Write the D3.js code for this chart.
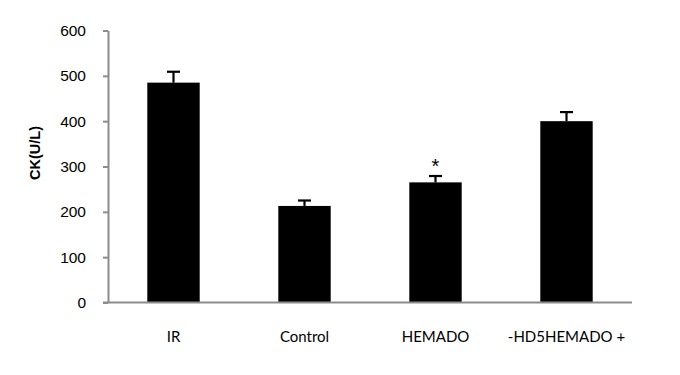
<!DOCTYPE html>
<html>
<head>
<meta charset="utf-8">
<script src="https://cdn.jsdelivr.net/npm/d3@7"></script>
<style>
  body { margin: 0; background: #fff; }
  svg { display: block; }
</style>
</head>
<body>
<div id="chart"></div>
<script>
// --- DATA ---
const groups = ["IR", "Control", "HEMADO", "-HD5HEMADO +"];
const means = [485, 213, 265, 400];
const errors = [24, 12, 14, 20];
const marks = ["", "", "*", ""];
const yTicks = [0, 100, 200, 300, 400, 500, 600];

// --- SETUP ---
const width = 680, height = 375;
const margin = { left: 108, right: 48, top: 30.5, bottom: 72.5 };

const svg = d3.select("#chart").append("svg")
    .attr("width", width)
    .attr("height", height);

const x = d3.scaleBand()
    .domain(groups)
    .range([margin.left, width - margin.right])
    .paddingInner(0.6)
    .paddingOuter(0.3);

const y = d3.scaleLinear()
    .domain([0, 600])
    .range([height - margin.bottom, margin.top]);

// y axis
const yAxis = svg.append("g")
    .attr("transform", `translate(${margin.left},0)`)
    .call(d3.axisLeft(y).tickValues(yTicks).tickSize(5).tickSizeOuter(0).tickPadding(17));
yAxis.select(".domain").attr("stroke", "#8c8c8c").attr("stroke-width", 2);
yAxis.selectAll(".tick line").attr("stroke", "#8c8c8c").attr("stroke-width", 2);
yAxis.selectAll(".tick text")
    .attr("font-family", "Liberation Sans, Arial, sans-serif")
    .attr("font-size", 15.5)
    .attr("fill", "#000");

// bars
svg.append("g").selectAll("rect")
    .data(groups)
    .join("rect")
    .attr("x", d => x(d))
    .attr("width", x.bandwidth())
    .attr("y", (d, i) => y(means[i]))
    .attr("height", (d, i) => y(0) - y(means[i]))
    .attr("fill", "#000");

// error bars (upper only)
const eb = svg.append("g").attr("stroke", "#000").attr("stroke-width", 2.2);
groups.forEach((g, i) => {
    const cx = x(g) + x.bandwidth() / 2;
    eb.append("line")
        .attr("x1", cx).attr("x2", cx)
        .attr("y1", y(means[i])).attr("y2", y(means[i] + errors[i]));
    eb.append("line")
        .attr("x1", cx - 6.5).attr("x2", cx + 6.5)
        .attr("y1", y(means[i] + errors[i])).attr("y2", y(means[i] + errors[i]));
    if (marks[i]) {
        svg.append("text")
            .attr("x", cx)
            .attr("y", y(means[i] + errors[i]) - 3)
            .attr("text-anchor", "middle")
            .attr("font-family", "Liberation Sans, Arial, sans-serif")
            .attr("font-size", 20)
            .text(marks[i]);
    }
});

// x baseline
svg.append("line")
    .attr("x1", margin.left - 5).attr("x2", width - margin.right)
    .attr("y1", y(0)).attr("y2", y(0))
    .attr("stroke", "#8c8c8c").attr("stroke-width", 2);

// x labels
svg.append("g").selectAll("text")
    .data(groups)
    .join("text")
    .attr("x", d => x(d) + x.bandwidth() / 2)
    .attr("y", 341.5)
    .attr("text-anchor", "middle")
    .attr("font-family", "Lato, Open Sans, sans-serif")
    .attr("font-size", 15)
    .attr("fill", "#000")
    .text(d => d);

// y title
svg.append("text")
    .attr("transform", "translate(40,153) rotate(-90)")
    .attr("text-anchor", "middle")
    .attr("font-family", "Liberation Sans, Arial, sans-serif")
    .attr("font-size", 14.5)
    .attr("font-weight", "bold")
    .text("CK(U/L)");
</script>
</body>
</html>
